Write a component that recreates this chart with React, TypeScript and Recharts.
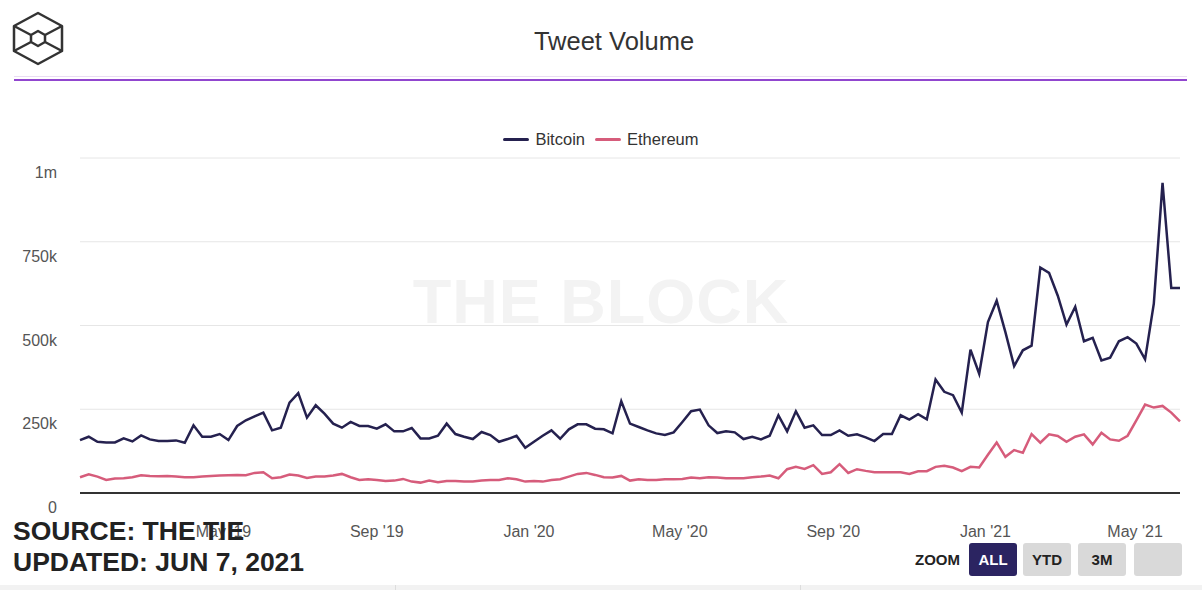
import { LineChart, Line, XAxis, YAxis, CartesianGrid } from "recharts"

// weekly tweet counts, in thousands, first week starting 6 Jan 2019
const bitcoin = [
  158, 168, 153, 151, 151, 163, 154, 172, 160, 155, 155, 157, 150, 202, 168, 168, 176, 158, 200, 217, 229, 240,
  187, 195, 270, 298, 225, 262, 237, 207, 195, 212, 200, 200, 192, 205, 184, 184, 194, 163, 163, 171, 207,
  176, 168, 161, 182, 173, 153, 161, 171, 135, 153, 171, 187, 162, 190, 205, 205, 192, 190, 178, 274, 207,
  197, 187, 178, 173, 181, 212, 244, 249, 202, 179, 184, 181, 161, 168, 160, 171, 232, 184, 244, 195, 202,
  173, 173, 187, 171, 175, 166, 155, 176, 176, 232, 219, 235, 220, 339, 302, 292, 240, 428, 356, 510, 574,
  480, 379, 426, 440, 673, 657, 589, 503, 556, 453, 463, 396, 404, 453, 465, 446, 399, 565, 926, 612, 612,
]

const ethereum = [
  47, 56, 49, 39, 43, 44, 47, 53, 51, 50, 51, 49, 47, 47, 49, 51, 52, 53, 54, 53, 60, 62,
  44, 47, 55, 52, 45, 49, 49, 52, 57, 47, 39, 41, 39, 36, 37, 42, 34, 31, 37, 32, 36,
  36, 34, 34, 37, 39, 39, 44, 41, 34, 36, 34, 39, 41, 49, 57, 60, 54, 47, 46, 51, 37,
  41, 39, 39, 41, 41, 42, 46, 44, 47, 46, 44, 44, 44, 47, 49, 52, 44, 71, 78, 72, 83,
  57, 62, 86, 60, 71, 66, 62, 62, 62, 62, 57, 65, 65, 78, 81, 76, 65, 78, 76, 114, 151,
  108, 128, 120, 176, 150, 175, 170, 153, 168, 175, 145, 180, 160, 156, 171, 217, 264, 255, 260, 240, 214,
]

const yTicks = [0, 250000, 500000, 750000, 1000000]
const yTickLabels = ["0", "250k", "500k", "750k", "1m"]

const xTickDates = [
  Date.UTC(2019, 4, 1),
  Date.UTC(2019, 8, 1),
  Date.UTC(2020, 0, 1),
  Date.UTC(2020, 4, 1),
  Date.UTC(2020, 8, 1),
  Date.UTC(2021, 0, 1),
  Date.UTC(2021, 4, 1),
]
const xTickLabels = ["May '19", "Sep '19", "Jan '20", "May '20", "Sep '20", "Jan '21", "May '21"]

const START = Date.UTC(2019, 0, 6)
const WEEK = 7 * 24 * 3600 * 1000

const series = [
  { key: "bitcoin", name: "Bitcoin", color: "#25214f" },
  { key: "ethereum", name: "Ethereum", color: "#d65c7b" },
]

const data = bitcoin.map((b, i) => ({
  t: START + i * WEEK,
  bitcoin: b * 1000,
  ethereum: ethereum[i] * 1000,
}))

const FONT = "'Liberation Sans', Arial, sans-serif"

function YTick({ y, payload }: any) {
  const idx = yTicks.indexOf(payload.value)
  return (
    <text x={57} y={y + 20} textAnchor="end" fill="#555" fontSize={16} fontFamily={FONT}>
      {yTickLabels[idx]}
    </text>
  )
}

function XTick({ x, y, payload }: any) {
  const idx = xTickDates.indexOf(payload.value)
  return (
    <text x={x} y={y + 36} textAnchor="middle" fill="#555" fontSize={16} fontFamily={FONT}>
      {xTickLabels[idx]}
    </text>
  )
}

function Logo() {
  return (
    <svg width={80} height={80} style={{ position: "absolute", left: 0, top: 0 }}>
      <g fill="none" stroke="#333" strokeWidth={2.5} strokeLinejoin="round">
        <polygon points="38,13 62,26 62,51 38,64 14,51 14,26" />
        <polygon points="38,31 45,35 45,42 38,46 31,42 31,35" />
        <line x1={14} y1={26} x2={31} y2={35} />
        <line x1={62} y1={26} x2={45} y2={35} />
        <line x1={14} y1={51} x2={31} y2={42} />
        <line x1={62} y1={51} x2={45} y2={42} />
      </g>
    </svg>
  )
}

const btn = (bg: string, color: string, left: number) => ({
  position: "absolute" as const,
  left,
  top: 543,
  width: 48,
  height: 33,
  background: bg,
  color,
  borderRadius: 3,
  fontFamily: FONT,
  fontWeight: 700,
  fontSize: 15,
  lineHeight: "33px",
  textAlign: "center" as const,
})

export default function App() {
  return (
    <div style={{ position: "absolute", left: 0, top: 0, width: 1202, height: 590, background: "#fff", overflow: "hidden" }}>
      <Logo />
      <div style={{ position: "absolute", left: 0, top: 27, width: 1228, textAlign: "center", fontFamily: FONT, fontSize: 25.5, color: "#333" }}>
        Tweet Volume
      </div>
      <div style={{ position: "absolute", left: 14, top: 76, width: 1173, height: 1, background: "#eadcf3" }} />
      <div style={{ position: "absolute", left: 14, top: 79, width: 1173, height: 2, background: "#9146cf" }} />

      <div style={{ position: "absolute", left: 0, top: 130, width: 1202, display: "flex", justifyContent: "center", gap: 10, fontFamily: FONT, fontSize: 16.5, color: "#333" }}>
        {series.map((s) => (
          <div key={s.key} style={{ display: "flex", alignItems: "center", gap: 6 }}>
            <span style={{ display: "inline-block", width: 26, height: 3, background: s.color, borderRadius: 2 }} />
            <span>{s.name}</span>
          </div>
        ))}
      </div>

      <div style={{ position: "absolute", left: 0, top: 265, width: 1202, textAlign: "center", fontFamily: FONT, fontWeight: 700, fontSize: 63, color: "#f3f3f3", letterSpacing: 1 }}>
        THE BLOCK
      </div>

      <div style={{ position: "absolute", left: 0, top: 0 }}>
        <LineChart width={1202} height={590} data={data} margin={{ top: 158, right: 22, bottom: 67, left: 0 }}>
          <CartesianGrid vertical={false} stroke="#e6e6e6" />
          <XAxis
            dataKey="t"
            type="number"
            scale="time"
            domain={[START, START + (bitcoin.length - 1) * WEEK]}
            ticks={xTickDates}
            tick={<XTick />}
            tickLine={false}
            axisLine={{ stroke: "#333", strokeWidth: 2 }}
            height={30}
            interval={0}
          />
          <YAxis
            domain={[0, 1000000]}
            ticks={yTicks}
            tick={<YTick />}
            tickLine={false}
            axisLine={false}
            width={80}
            interval={0}
          />
          {series.map((s) => (
            <Line
              key={s.key}
              type="linear"
              dataKey={s.key}
              name={s.name}
              stroke={s.color}
              strokeWidth={2.5}
              dot={false}
              isAnimationActive={false}
            />
          ))}
        </LineChart>
      </div>

      <div style={{ position: "absolute", left: 13, top: 516, fontFamily: FONT, fontWeight: 700, fontSize: 26.5, color: "#222", lineHeight: "31px" }}>
        SOURCE: THE TIE
        <br />
        UPDATED: JUN 7, 2021
      </div>

      <div style={{ position: "absolute", left: 915, top: 551, fontFamily: FONT, fontWeight: 700, fontSize: 15, color: "#222" }}>ZOOM</div>
      <div style={btn("#2b2461", "#fff", 969)}>ALL</div>
      <div style={btn("#d9d9d9", "#222", 1023)}>YTD</div>
      <div style={btn("#d9d9d9", "#222", 1078)}>3M</div>
      <div style={btn("#d9d9d9", "#222", 1134)}></div>

      <div style={{ position: "absolute", left: 0, top: 585, width: 1202, height: 5, background: "#f2f2f2" }} />
      <div style={{ position: "absolute", left: 395, top: 585, width: 1, height: 5, background: "#ddd" }} />
      <div style={{ position: "absolute", left: 800, top: 585, width: 1, height: 5, background: "#ddd" }} />
    </div>
  )
}
